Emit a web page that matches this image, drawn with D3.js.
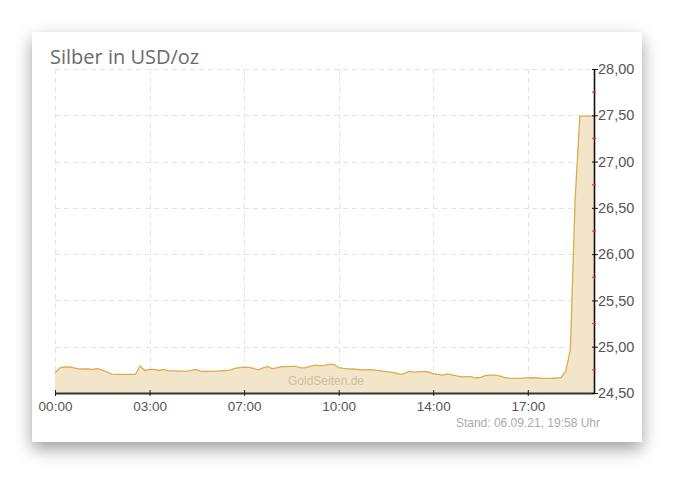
<!DOCTYPE html>
<html lang="de">
<head>
<meta charset="UTF-8">
<title>Silber in USD/oz</title>
<script src="https://d3js.org/d3.v7.min.js"></script>
<style>
    body {
        margin: 0;
        background: #fff;
        width: 674px;
        height: 485px;
        overflow: hidden;
    }
    /* card with drop shadow */
    #card {
        position: absolute;
        left: 32px;
        top: 32px;
        width: 610px;
        height: 410px;
        background: #fff;
        box-shadow: 0 7px 16px rgba(0, 0, 0, 0.38);
    }
    #chart {
        position: absolute;
        left: 0;
        top: 0;
    }
    .title {
        font-family: "Open Sans", sans-serif;
        font-size: 20px;
        fill: #6b6b6b;
    }
    .tick-label {
        font-family: "Liberation Sans", Arial, sans-serif;
        font-size: 13.5px;
        fill: #555;
    }
    .y-label {
        font-family: "Liberation Sans", Arial, sans-serif;
        font-size: 14.5px;
        fill: #555;
    }
</style>
</head>
<body>
<div id="card"></div>
<svg id="chart" width="674" height="485"></svg>

<script>
// time labels on the x axis and the sample index where each one sits
const tickLabels = ["00:00", "03:00", "07:00", "10:00", "14:00", "17:00"];
const tickIndex = [0, 20, 40, 60, 80, 100];

// price axis
const yTicks = [24.5, 25.0, 25.5, 26.0, 26.5, 27.0, 27.5, 28.0];
const yMinor = [24.75, 25.25, 25.75, 26.25, 26.75, 27.25, 27.75];

// silver price samples over the day (USD/oz)
const prices = [
    24.716, 24.772, 24.781, 24.781, 24.772, 24.761, 24.759, 24.759, 24.756, 24.762,
    24.748, 24.727, 24.703, 24.702, 24.702, 24.702, 24.702, 24.702, 24.792, 24.743,
    24.754, 24.754, 24.743, 24.754, 24.738, 24.738, 24.738, 24.736, 24.733, 24.748,
    24.753, 24.733, 24.732, 24.733, 24.736, 24.740, 24.743, 24.748, 24.766, 24.773,
    24.779, 24.776, 24.765, 24.750, 24.772, 24.788, 24.761, 24.774, 24.784, 24.784,
    24.787, 24.787, 24.771, 24.775, 24.787, 24.802, 24.795, 24.799, 24.810, 24.810,
    24.774, 24.765, 24.761, 24.759, 24.755, 24.751, 24.750, 24.752, 24.744, 24.739,
    24.732, 24.726, 24.716, 24.702, 24.713, 24.737, 24.725, 24.729, 24.734, 24.727,
    24.708, 24.701, 24.694, 24.707, 24.695, 24.684, 24.675, 24.676, 24.677, 24.662,
    24.669, 24.688, 24.694, 24.694, 24.685, 24.669, 24.661, 24.659, 24.659, 24.661,
    24.663, 24.665, 24.662, 24.659, 24.659, 24.659, 24.662, 24.666, 24.732, 24.965,
    26.585, 27.490, 27.490, 27.490, 27.490
];

const margin = { left: 55, right: 80, top: 69, bottom: 92 };
const W = 674, H = 485;

const svg = d3.select("#chart");

const x = d3.scaleLinear()
    .domain([0, prices.length - 1])
    .range([margin.left, W - margin.right]);

const y = d3.scaleLinear()
    .domain([24.5, 28.0])
    .range([H - margin.bottom, margin.top]);

const fmt = v => d3.format(".2f")(v).replace(".", ",");

// grid lines
const grid = svg.append("g")
    .attr("stroke", "#e3e3e3")
    .attr("stroke-dasharray", "5,4")
    .attr("stroke-width", 1);

grid.selectAll(".h")
    .data(yTicks.slice(1))
    .enter().append("line")
    .attr("x1", margin.left)
    .attr("x2", W - margin.right)
    .attr("y1", d => Math.round(y(d)) + 0.5)
    .attr("y2", d => Math.round(y(d)) + 0.5);

grid.selectAll(".v")
    .data(tickIndex)
    .enter().append("line")
    .attr("x1", d => Math.round(x(d)) + 0.5)
    .attr("x2", d => Math.round(x(d)) + 0.5)
    .attr("y1", margin.top)
    .attr("y2", H - margin.bottom);

// price area + line
const area = d3.area()
    .x((d, i) => x(i))
    .y0(y(24.5))
    .y1(d => y(d));

const line = d3.line()
    .x((d, i) => x(i))
    .y(d => y(d));

svg.append("path")
    .datum(prices)
    .attr("d", area)
    .attr("fill", "#f2e5c9");

svg.append("path")
    .datum(prices)
    .attr("d", line)
    .attr("fill", "none")
    .attr("stroke", "#dcad4f")
    .attr("stroke-width", 1.3);

// watermark
svg.append("text")
    .attr("x", 326)
    .attr("y", 385)
    .attr("text-anchor", "middle")
    .style("font-family", "'Liberation Sans', Arial, sans-serif")
    .style("font-size", "12px")
    .style("fill", "#cdc0a2")
    .text("GoldSeiten.de");

// bottom axis
const xAxis = d3.axisBottom(x)
    .tickValues(tickIndex)
    .tickFormat((d, i) => tickLabels[i])
    .tickSize(4)
    .tickSizeOuter(0);

const gX = svg.append("g")
    .attr("transform", `translate(0,${y(24.5)})`)
    .call(xAxis);

gX.select(".domain").attr("stroke", "#333").attr("stroke-width", 2);
gX.selectAll(".tick line").attr("stroke", "#222").attr("y1", -3).attr("y2", 3);
gX.selectAll(".tick text")
    .attr("class", "tick-label")
    .attr("y", 8)
    .attr("font-family", null)
    .attr("font-size", null);

// right axis
const yAxis = d3.axisRight(y)
    .tickValues(yTicks)
    .tickFormat(fmt)
    .tickSize(5)
    .tickSizeOuter(0);

const gY = svg.append("g")
    .attr("transform", `translate(${W - margin.right},0)`)
    .call(yAxis);

gY.select(".domain").attr("stroke", "#111").attr("stroke-width", 1.6);
gY.selectAll(".tick line").attr("stroke", "#111").attr("x1", -2).attr("x2", 4);
gY.selectAll(".tick text")
    .attr("class", "y-label")
    .attr("x", 4)
    .attr("font-family", null)
    .attr("font-size", null);

// red minor ticks
gY.selectAll(".minor")
    .data(yMinor)
    .enter().append("line")
    .attr("x1", -2)
    .attr("x2", 2)
    .attr("y1", d => y(d))
    .attr("y2", d => y(d))
    .attr("stroke", "#e8392f")
    .attr("stroke-width", 1.2);

// title and stamp
svg.append("text")
    .attr("class", "title")
    .attr("x", 50)
    .attr("y", 64)
    .text("Silber in USD/oz");

svg.append("text")
    .attr("x", 600)
    .attr("y", 427)
    .attr("text-anchor", "end")
    .style("font-family", "'Liberation Sans', Arial, sans-serif")
    .style("font-size", "12px")
    .style("fill", "#aaa")
    .text("Stand: 06.09.21, 19:58 Uhr");
</script>
</body>
</html>
